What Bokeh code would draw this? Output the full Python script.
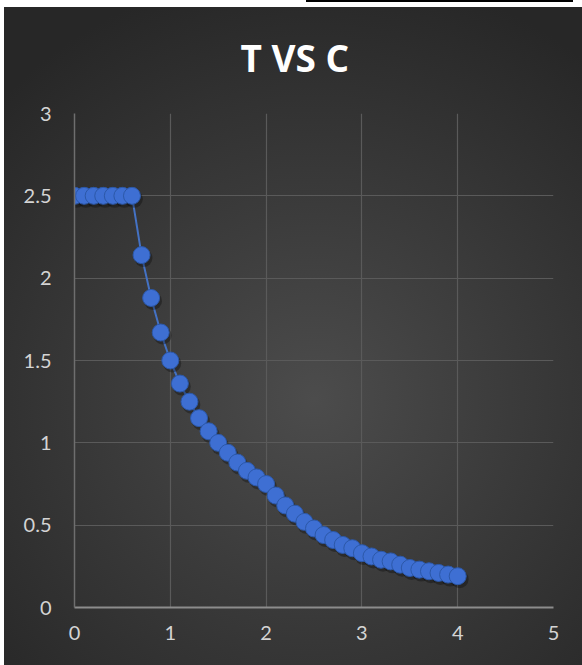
from bokeh.plotting import figure
from bokeh.models import Range1d, FixedTicker, ColumnDataSource
from bokeh.transform import dodge
from bokeh.embed import file_html
from bokeh.resources import INLINE

# Period T (s) and coefficient C
t_values = [0.0, 0.1, 0.2, 0.3, 0.4, 0.5, 0.6, 0.7, 0.8, 0.9,
            1.0, 1.1, 1.2, 1.3, 1.4, 1.5, 1.6, 1.7, 1.8, 1.9,
            2.0, 2.1, 2.2, 2.3, 2.4, 2.5, 2.6, 2.7, 2.8, 2.9,
            3.0, 3.1, 3.2, 3.3, 3.4, 3.5, 3.6, 3.7, 3.8, 3.9, 4.0]
c_values = [2.50, 2.50, 2.50, 2.50, 2.50, 2.50, 2.50, 2.14, 1.88, 1.67,
            1.50, 1.36, 1.25, 1.15, 1.07, 1.00, 0.94, 0.88, 0.83, 0.79,
            0.75, 0.68, 0.62, 0.57, 0.52, 0.48, 0.44, 0.41, 0.38, 0.36,
            0.33, 0.31, 0.29, 0.28, 0.26, 0.24, 0.23, 0.22, 0.21, 0.20, 0.19]
x_ticks = [0, 1, 2, 3, 4, 5]
y_ticks = [0, 0.5, 1, 1.5, 2, 2.5, 3]

source = ColumnDataSource(data=dict(t=t_values, c=c_values))

p = figure(width=582, height=665, output_backend="svg", toolbar_location=None,
           x_range=Range1d(0, 5), y_range=Range1d(0, 3),
           min_border_left=74, min_border_right=29,
           min_border_top=113, min_border_bottom=58,
           title="T VS C")

p.background_fill_color = None
p.border_fill_color = None
p.outline_line_color = None
p.styles = {
    "background": (
        "linear-gradient(#000000, #000000) 306px 0px / 267px 2px no-repeat, "
        "linear-gradient(#ffffff, #ffffff) 0px 0px / 100% 7px no-repeat, "
        "linear-gradient(#ffffff, #ffffff) 0px 0px / 4px 100% no-repeat, "
        "radial-gradient(ellipse 75% 65% at 54% 60%, #4c4c4c 0%, #3b3b3b 45%, #272727 100%)"
    )
}

p.title.align = "left"
p.title.offset = 166
p.title.vertical_align = "top"
p.title.text_color = "#ffffff"
p.title.text_font = "Open Sans"
p.title.text_font_style = "bold"
p.title.text_font_size = "37px"
p.title.standoff = 58

p.xaxis.ticker = FixedTicker(ticks=x_ticks)
p.yaxis.ticker = FixedTicker(ticks=y_ticks)
p.xaxis.major_label_overrides = {0: "0", 1: "1", 2: "2", 3: "3", 4: "4", 5: "5"}
p.yaxis.major_label_overrides = {0: "0", 0.5: "0.5", 1: "1", 1.5: "1.5", 2: "2", 2.5: "2.5", 3: "3"}
for ax in (p.xaxis, p.yaxis):
    ax.major_tick_line_color = None
    ax.minor_tick_line_color = None
    ax.major_label_text_color = "#d4d4d4"
    ax.major_label_text_font = "Lato"
    ax.major_label_text_font_size = "20px"
p.xaxis.axis_line_color = "#8c8c8c"
p.xaxis.axis_line_width = 2
p.yaxis.axis_line_color = "#6e6e6e"
p.yaxis.axis_line_width = 1.5
p.xaxis.major_label_standoff = 12
p.yaxis.major_label_standoff = 17

p.xgrid.grid_line_color = "#5a5a5a"
p.ygrid.grid_line_color = "#5a5a5a"
p.xgrid.grid_line_width = 1.2
p.ygrid.grid_line_width = 1.2

p.line("t", "c", source=source, line_color="#4472c4", line_width=2)
# soft drop shadow under each marker
p.scatter(dodge("t", 0.02, range=p.x_range), dodge("c", -0.018, range=p.y_range),
          source=source, size=18, fill_color="#000000", fill_alpha=0.3, line_color=None)
p.scatter("t", "c", source=source, size=17, fill_color="#3e6fd3",
          line_color="#2c58a8", line_width=1)

open("out.html", "w").write(file_html(p, INLINE))
